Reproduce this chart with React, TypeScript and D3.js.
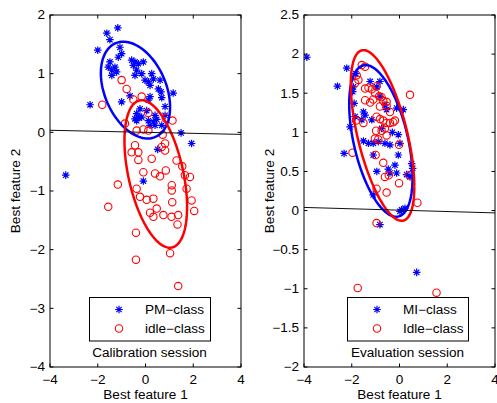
import React from 'react';
import * as d3 from 'd3';

type Pt = [number, number];

const W = 497;
const H = 403;

// Calibration session: projected samples on the two best features
const calibPM: Pt[] = [
  [-1.62, 1.69], [-1.16, 1.78], [-1.49, 1.58], [-2.0, 1.4], [-1.07, 1.45], [-1.0, 1.34],
  [-1.14, 1.28], [-1.49, 1.2], [-1.56, 1.11], [-1.41, 1.06], [-1.28, 1.11], [-1.21, 1.03],
  [-1.41, 0.97], [-0.58, 1.23], [-0.44, 1.2], [-0.51, 1.14], [-0.3, 1.17], [-0.09, 1.2],
  [-0.37, 1.06], [-0.44, 0.97], [-0.16, 1.0], [0.26, 1.0], [0.33, 0.91], [-0.02, 0.89],
  [0.12, 0.86], [0.19, 0.8], [0.61, 0.89], [0.54, 0.74], [0.65, 0.69], [1.16, 0.67],
  [0.68, 0.59], [0.82, 0.44], [-2.32, 0.47], [-1.0, 0.52], [-0.65, 0.62], [0.19, 0.61],
  [0.12, 0.55], [-0.23, 0.4], [-0.37, 0.32], [-0.16, 0.26], [-0.44, 0.23], [0.05, 0.37],
  [0.4, 0.29], [0.47, 0.22], [0.82, 0.29], [-0.3, 0.26], [-0.37, 0.2], [0.12, 0.2],
  [0.33, 0.18], [0.19, 0.12], [0.68, 0.12], [0.4, 0.12], [1.49, -0.01], [1.93, -0.19],
  [0.51, -0.29], [-0.09, -0.83], [-3.34, -0.73],
];

const calibIdle: Pt[] = [
  [-1.0, 0.89], [-0.79, 0.74], [-1.81, 0.47], [-0.51, 0.56], [-0.16, 0.61], [0.12, 0.33],
  [0.85, 0.24], [1.13, 0.2], [-0.86, 0.15], [-0.37, 0.03], [-0.09, 0.05], [0.12, 0.03],
  [0.72, -0.04], [0.82, -0.19], [0.68, -0.25], [0.82, -0.31], [-0.44, -0.22], [-0.58, -0.34],
  [-0.3, -0.34], [-0.3, -0.47], [0.26, -0.45], [1.3, -0.48], [1.54, -0.58], [-0.09, -0.68],
  [0.4, -0.7], [0.61, -0.75], [0.85, -0.65], [1.65, -0.73], [1.86, -0.76], [-1.16, -0.89],
  [-0.37, -0.96], [1.1, -0.9], [1.1, -0.99], [1.72, -0.96], [-0.23, -1.1], [0.05, -1.15],
  [0.33, -1.13], [1.12, -1.19], [1.93, -1.16], [-1.56, -1.27], [0.47, -1.3], [2.04, -1.34],
  [0.19, -1.37], [0.33, -1.44], [0.75, -1.41], [1.09, -1.44], [1.37, -1.41], [1.34, -1.57],
  [-0.4, -1.71], [1.03, -2.06], [-0.4, -2.17], [1.37, -2.62],
];

// Evaluation session samples
const evalMI: Pt[] = [
  [-3.88, 1.96], [-2.6, 1.59], [-2.21, 1.82], [-1.83, 1.75], [-1.93, 1.58], [-1.96, 1.52],
  [-1.23, 1.65], [-0.82, 1.65], [-0.95, 1.58], [-1.9, 1.37], [-1.86, 1.2], [-1.51, 1.26],
  [-1.44, 1.22], [-1.58, 1.16], [-1.16, 1.16], [-0.61, 1.35], [-0.54, 1.29], [-0.82, 1.46],
  [0.16, 1.29], [-0.12, 1.31], [-2.07, 1.07], [-1.51, 0.89], [-1.3, 0.86], [-1.1, 0.86],
  [-0.89, 0.88], [-0.61, 0.86], [-0.4, 0.84], [-0.05, 0.97], [0.02, 0.86], [-2.32, 0.73],
  [-1.1, 0.71], [-0.05, 0.71], [0.51, 0.6], [0.55, 0.54], [-0.19, 0.58], [-0.12, 0.48],
  [-0.95, 0.5], [-0.47, 0.53], [-0.4, 0.48], [0.3, 0.46], [0.44, 0.43], [-1.1, 0.2],
  [0.09, 0.01], [0.23, 0.03], [0.02, -0.01], [-0.82, -0.18], [0.72, -0.79], [-0.75, 1.05],
  [-0.3, 1.0],
];

const evalIdle: Pt[] = [
  [-1.58, 1.86], [-1.44, 1.84], [-1.79, 1.73], [-1.72, 1.67], [-1.86, 1.63], [-1.44, 1.56],
  [-1.3, 1.57], [-1.16, 1.55], [-0.96, 1.59], [-1.02, 1.5], [-0.85, 1.46], [-1.1, 1.42],
  [-1.23, 1.38], [-0.75, 1.45], [-0.68, 1.4], [-0.82, 1.33], [-0.54, 1.39], [-0.54, 1.34],
  [-1.44, 1.41], [0.44, 1.48], [-1.82, 1.15], [-1.51, 1.12], [-0.96, 1.2], [-0.82, 1.17],
  [-0.68, 1.15], [-0.54, 1.12], [-0.4, 1.12], [-0.26, 1.13], [-0.19, 1.15], [-0.4, 1.26],
  [-0.98, 1.02], [-0.75, 1.02], [-0.61, 1.05], [-1.03, 0.92], [-0.89, 0.91], [-0.54, 0.96],
  [-0.02, 0.84], [-1.97, 0.74], [-1.0, 0.71], [-0.68, 0.61], [-0.61, 0.43], [-0.45, 0.45],
  [0.41, 0.45], [-0.02, 0.35], [-0.96, 0.28], [-0.54, 0.23], [0.75, 0.1], [-0.96, -0.16],
  [-1.75, -0.99], [1.55, -1.05],
];

// Class contours: mean and shape matrix [[sxx, sxy], [sxy, syy]]
const calibPMMean: Pt = [-0.42, 0.72];
const calibPMShape = [2.1, -0.42, 0.68];
const calibIdleMean: Pt = [0.43, -0.71];
const calibIdleShape = [1.72, -0.74, 1.58];
const evalMIMean: Pt = [-0.78, 0.89];
const evalMIShape = [1.76, -0.62, 0.94];
const evalIdleMean: Pt = [-0.71, 0.96];
const evalIdleShape = [1.77, -0.87, 1.19];

// Linear decision boundaries
const calibBoundary: Pt[] = [[-4, 0.035], [4, -0.035]];
const evalBoundary: Pt[] = [[-4, 0.04], [4, -0.03]];

const xTicks = [-4, -2, 0, 2, 4];
const calibYTicks = [-4, -3, -2, -1, 0, 1, 2];
const evalYTicks = [-2, -1.5, -1, -0.5, 0, 0.5, 1, 1.5, 2, 2.5];

const FONT = "'Liberation Sans', Arial, Helvetica, sans-serif";
const BLUE = '#0000ff';
const RED = '#ff0000';

const fmt = (v: number) => (v < 0 ? '\u2212' + Math.abs(v) : String(v));

function ellipsePoints(mean: Pt, shape: number[]): Pt[] {
  const [a, b, c] = shape;
  const l11 = Math.sqrt(a);
  const l21 = b / l11;
  const l22 = Math.sqrt(c - l21 * l21);
  return d3.range(0, 361, 3).map((deg) => {
    const t = (deg * Math.PI) / 180;
    return [mean[0] + l11 * Math.cos(t), mean[1] + l21 * Math.cos(t) + l22 * Math.sin(t)] as Pt;
  });
}

const Label = ({ x, y, anchor = 'start', rotate = 0, children }: any) => (
  <text
    transform={`translate(${x},${y}) rotate(${rotate}) scale(1.13,1)`}
    textAnchor={anchor}
    fontFamily={FONT}
    fontSize={12}
    fill="#000"
  >
    {children}
  </text>
);

const Star = ({ x, y }: { x: number; y: number }) => {
  const r = 3.8;
  const d = 2.7;
  return (
    <path
      d={`M${x - r},${y}H${x + r}M${x},${y - r}V${y + r}M${x - d},${y - d}L${x + d},${y + d}M${x - d},${y + d}L${x + d},${y - d}`}
      stroke={BLUE}
      strokeWidth={1.2}
      fill="none"
    />
  );
};

const Ring = ({ x, y }: { x: number; y: number }) => (
  <circle cx={x} cy={y} r={3.7} stroke={RED} strokeWidth={1.1} fill="none" />
);

type PanelProps = {
  id: string;
  left: number;
  right: number;
  yDomain: [number, number];
  yTicks: number[];
  stars: Pt[];
  rings: Pt[];
  starMean: Pt;
  starShape: number[];
  ringMean: Pt;
  ringShape: number[];
  boundary: Pt[];
  starLabel: string;
  ringLabel: string;
  title: string;
  legendLeft: number;
};

const TOP = 15;
const BOTTOM = 367;

function Panel(p: PanelProps) {
  const x = d3.scaleLinear().domain([-4, 4]).range([p.left, p.right]);
  const y = d3.scaleLinear().domain(p.yDomain).range([BOTTOM, TOP]);
  const line = d3.line<Pt>().x((d) => x(d[0])).y((d) => y(d[1]));
  const tl = 3.5;
  const cx = (p.left + p.right) / 2;
  const lg = p.legendLeft;
  return (
    <g>
      <defs>
        <clipPath id={p.id}>
          <rect x={p.left} y={TOP} width={p.right - p.left} height={BOTTOM - TOP} />
        </clipPath>
      </defs>
      <g clipPath={`url(#${p.id})`}>
        {p.stars.map((d, i) => (
          <Star key={'s' + i} x={x(d[0])} y={y(d[1])} />
        ))}
        {p.rings.map((d, i) => (
          <Ring key={'r' + i} x={x(d[0])} y={y(d[1])} />
        ))}
        <path d={line(ellipsePoints(p.starMean, p.starShape)) || ''} stroke={BLUE} strokeWidth={2.5} fill="none" />
        <path d={line(ellipsePoints(p.ringMean, p.ringShape)) || ''} stroke={RED} strokeWidth={2.5} fill="none" />
        <path d={line(p.boundary) || ''} stroke="#111" strokeWidth={1} fill="none" />
      </g>

      {/* frame and inward ticks */}
      <rect x={p.left} y={TOP} width={p.right - p.left} height={BOTTOM - TOP} fill="none" stroke="#000" strokeWidth={1} />
      {xTicks.map((t) => (
        <g key={'xt' + t}>
          <line x1={x(t)} x2={x(t)} y1={BOTTOM} y2={BOTTOM - tl} stroke="#000" />
          <line x1={x(t)} x2={x(t)} y1={TOP} y2={TOP + tl} stroke="#000" />
          <Label x={x(t)} y={BOTTOM + 16.5} anchor="middle">{fmt(t)}</Label>
        </g>
      ))}
      {p.yTicks.map((t) => (
        <g key={'yt' + t}>
          <line x1={p.left} x2={p.left + tl} y1={y(t)} y2={y(t)} stroke="#000" />
          <line x1={p.right} x2={p.right - tl} y1={y(t)} y2={y(t)} stroke="#000" />
          <Label x={p.left - 5} y={y(t) + 4.3} anchor="end">{fmt(t)}</Label>
        </g>
      ))}

      <Label x={cx} y={399} anchor="middle">Best feature 1</Label>
      <Label x={p.left - 30} y={(TOP + BOTTOM) / 2} anchor="middle" rotate={-90}>Best feature 2</Label>

      {/* legend */}
      <rect x={lg} y={297.5} width={121} height={43.5} fill="#fff" stroke="#000" strokeWidth={1} />
      <Star x={lg + 29.5} y={309.5} />
      <Ring x={lg + 29.5} y={328.5} />
      <Label x={lg + 55.5} y={314} anchor="start">{p.starLabel}</Label>
      <Label x={lg + 55.5} y={333} anchor="start">{p.ringLabel}</Label>
      <Label x={lg + 60} y={357} anchor="middle">{p.title}</Label>
    </g>
  );
}

export default function App() {
  return (
    <svg width={W} height={H} style={{ position: 'absolute', left: 0, top: 0, background: '#fff' }}>
      <rect x={0} y={0} width={W} height={H} fill="#fff" />
      <Panel
        id="clip-calib"
        left={50}
        right={241}
        yDomain={[-4, 2]}
        yTicks={calibYTicks}
        stars={calibPM}
        rings={calibIdle}
        starMean={calibPMMean}
        starShape={calibPMShape}
        ringMean={calibIdleMean}
        ringShape={calibIdleShape}
        boundary={calibBoundary}
        starLabel={'PM\u2212class'}
        ringLabel={'idle\u2212class'}
        title="Calibration session"
        legendLeft={89.5}
      />
      <Panel
        id="clip-eval"
        left={304}
        right={495}
        yDomain={[-2, 2.5]}
        yTicks={evalYTicks}
        stars={evalMI}
        rings={evalIdle}
        starMean={evalMIMean}
        starShape={evalMIShape}
        ringMean={evalIdleMean}
        ringShape={evalIdleShape}
        boundary={evalBoundary}
        starLabel={'MI\u2212class'}
        ringLabel={'Idle\u2212class'}
        title="Evaluation session"
        legendLeft={347.5}
      />
    </svg>
  );
}
